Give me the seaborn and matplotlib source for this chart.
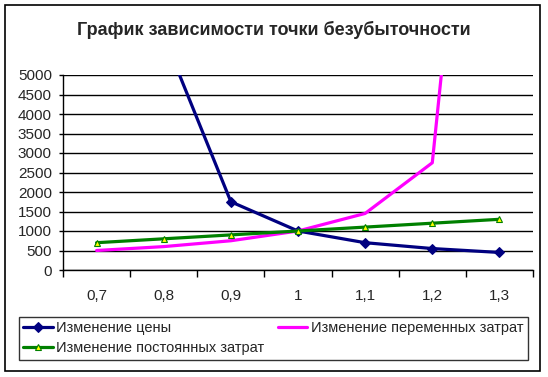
import numpy as np
import matplotlib
matplotlib.use("Agg")
import matplotlib.pyplot as plt
from matplotlib.patches import Rectangle
from matplotlib.ticker import FixedLocator, NullFormatter
import seaborn as sns

# break-even point vs. change factor
factors = ["0,7", "0,8", "0,9", "1", "1,1", "1,2", "1,3"]
price_change = [np.nan, 6000, 1750, 1000, 700, 550, 450]
variable_change = [500, 600, 750, 1000, 1450, 2750, 19500]
fixed_change = [700, 800, 900, 1000, 1100, 1200, 1300]

labels = ["Изменение цены", "Изменение переменных затрат", "Изменение постоянных затрат"]

sns.set_theme(style="white")
plt.rcParams["font.family"] = ["Liberation Sans", "DejaVu Sans"]

W, H = 548, 377
fig = plt.figure(figsize=(W / 100, H / 100), dpi=100)
ax = fig.add_axes([63 / W, 1 - 270 / H, 470 / W, 195 / H])

x = np.arange(len(factors))
sns.lineplot(x=x, y=price_change, ax=ax, color="#000080", lw=2.3, marker="D",
             markersize=5, markeredgecolor="#000080", label=labels[0])
sns.lineplot(x=x, y=variable_change, ax=ax, color="#ff00ff", lw=2.3, label=labels[1])
sns.lineplot(x=x, y=fixed_change, ax=ax, color="#008000", lw=2.3, marker="^",
             markersize=5, markerfacecolor="#ffff00", markeredgecolor="#008000",
             markeredgewidth=0.8, label=labels[2])

ax.set_xlim(-0.5, len(factors) - 0.5)
ax.set_ylim(0, 5000)
ax.set_yticks(np.arange(0, 5001, 500))
ax.yaxis.grid(True, color="black", lw=1)
ax.set_xticks(x)
ax.set_xticklabels(factors)
ax.xaxis.set_minor_locator(FixedLocator(np.arange(-0.5, len(factors), 1)))
ax.xaxis.set_minor_formatter(NullFormatter())
ax.tick_params(axis="x", which="major", length=0, pad=14, labelsize=11)
ax.tick_params(axis="x", which="minor", length=5, width=1, color="black", bottom=True)
ax.tick_params(axis="y", length=3, width=1, color="black", left=True, pad=5, labelsize=11)
for side in ["top", "right"]:
    ax.spines[side].set_visible(False)
for side in ["left", "bottom"]:
    ax.spines[side].set_color("black")
    ax.spines[side].set_linewidth(1)
ax.set_axisbelow(True)

fig.text(0.5, 1 - 30 / H, "График зависимости точки безубыточности",
         ha="center", va="center", fontsize=13, fontweight="bold")

fig.patches.append(Rectangle((5 / W, 6 / H), 535 / W, 366 / H,
                             transform=fig.transFigure, fill=False, ec="black", lw=1.2))

# legend: row 1 = price, variable; row 2 = fixed (column-major order)
handles, _ = ax.get_legend_handles_labels()
ax.get_legend().remove()
order = [0, 2, 1]
leg = fig.legend([handles[i] for i in order], [labels[i] for i in order],
                 loc="upper left", bbox_to_anchor=(19 / W, 1 - 317 / H),
                 ncol=2, fontsize=10.5, frameon=True, fancybox=False,
                 edgecolor="black", handlelength=2.0, handletextpad=0.27,
                 columnspacing=0.9, borderpad=0.3, labelspacing=0.4, borderaxespad=0)
leg.get_frame().set_linewidth(1)

fig.savefig("out.png", dpi=100)
